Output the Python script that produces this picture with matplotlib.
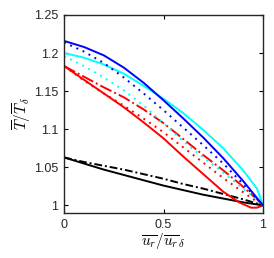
import matplotlib
matplotlib.use("Agg")
import matplotlib.pyplot as plt

plt.rcParams["font.family"] = ["Liberation Sans", "DejaVu Sans"]
plt.rcParams["mathtext.fontset"] = "cm"

# profile samples
x = [0, 0.1, 0.2, 0.3, 0.4, 0.5, 0.6, 0.7, 0.8, 0.9, 1.0]

blue_solid = [1.216, 1.208, 1.197, 1.181, 1.161, 1.138, 1.114, 1.089, 1.062, 1.032, 1.0]
blue_dot = [1.214, 1.202, 1.187, 1.168, 1.147, 1.125, 1.102, 1.079, 1.055, 1.028, 1.0]

x_cyan = [0, 0.1, 0.2, 0.3, 0.4, 0.5, 0.6, 0.7, 0.8, 0.9, 0.97, 1.0]
cyan_solid = [1.200, 1.194, 1.185, 1.173, 1.157, 1.140, 1.121, 1.099, 1.075, 1.046, 1.022, 1.0]
cyan_dot = [1.196, 1.183, 1.168, 1.151, 1.131, 1.108, 1.084, 1.063, 1.043, 1.022, 1.008, 1.0]

x_red = [0, 0.1, 0.2, 0.3, 0.4, 0.5, 0.6, 0.7, 0.8, 0.88, 0.94, 0.97, 1.0]
red_solid = [1.183, 1.165, 1.147, 1.129, 1.109, 1.088, 1.064, 1.041, 1.018, 1.004, 0.997, 0.997, 1.0]
red_dashdot = [1.183, 1.169, 1.155, 1.142, 1.126, 1.108, 1.087, 1.066, 1.046, 1.029, 1.015, 1.008, 1.0]
red_dot = [1.183, 1.164, 1.147, 1.131, 1.114, 1.096, 1.076, 1.056, 1.036, 1.021, 1.010, 1.005, 1.0]

black_solid = [1.063, 1.055, 1.047, 1.040, 1.033, 1.026, 1.020, 1.014, 1.009, 1.004, 1.0]
black_dashdot = [1.063, 1.057, 1.052, 1.047, 1.041, 1.035, 1.028, 1.022, 1.015, 1.008, 1.0]

xticks = [0, 0.5, 1]
xticklabels = ["0", "0.5", "1"]
yticks = [1, 1.05, 1.1, 1.15, 1.2, 1.25]
yticklabels = ["1", "1.05", "1.1", "1.15", "1.2", "1.25"]

fig = plt.figure(figsize=(2.74, 2.58), dpi=100)
ax = fig.add_axes([0.2336, 0.1744, 0.7263, 0.7675])

lw = 1.4
dot = (0, (1, 2.5))
cyan = "#00ffff"
ax.plot(x, black_solid, color="k", lw=lw)
ax.plot(x, black_dashdot, color="k", lw=lw, ls=(0, (4, 1.5, 1, 1.5)))
ax.plot(x_red, red_solid, color="r", lw=lw)
ax.plot(x_red, red_dashdot, color="r", lw=lw, ls="-.")
ax.plot(x_red, red_dot, color="r", lw=lw, ls=dot)
ax.plot(x_cyan, cyan_solid, color=cyan, lw=lw)
ax.plot(x_cyan, cyan_dot, color=cyan, lw=lw, ls=dot)
ax.plot(x, blue_solid, color="b", lw=lw)
ax.plot(x, blue_dot, color="b", lw=lw, ls=dot)

ax.set_xlim(0, 1)
ax.set_ylim(0.99, 1.25)
ax.set_xticks(xticks)
ax.set_xticklabels(xticklabels)
ax.set_yticks(yticks)
ax.set_yticklabels(yticklabels)
ax.tick_params(direction="in", top=True, right=True, length=3, width=0.8,
               labelsize=9, pad=4, labelcolor="#262626")
for sp in ax.spines.values():
    sp.set_linewidth(1.0)
    sp.set_color("#262626")

ax.set_xlabel(r"$\overline{u_r}/\overline{u_r}_{\delta}$", fontsize=11, labelpad=0)
ax.set_ylabel(r"$\overline{T}/\overline{T}_{\delta}$", fontsize=11, labelpad=1)

fig.savefig("out.png", dpi=100)
